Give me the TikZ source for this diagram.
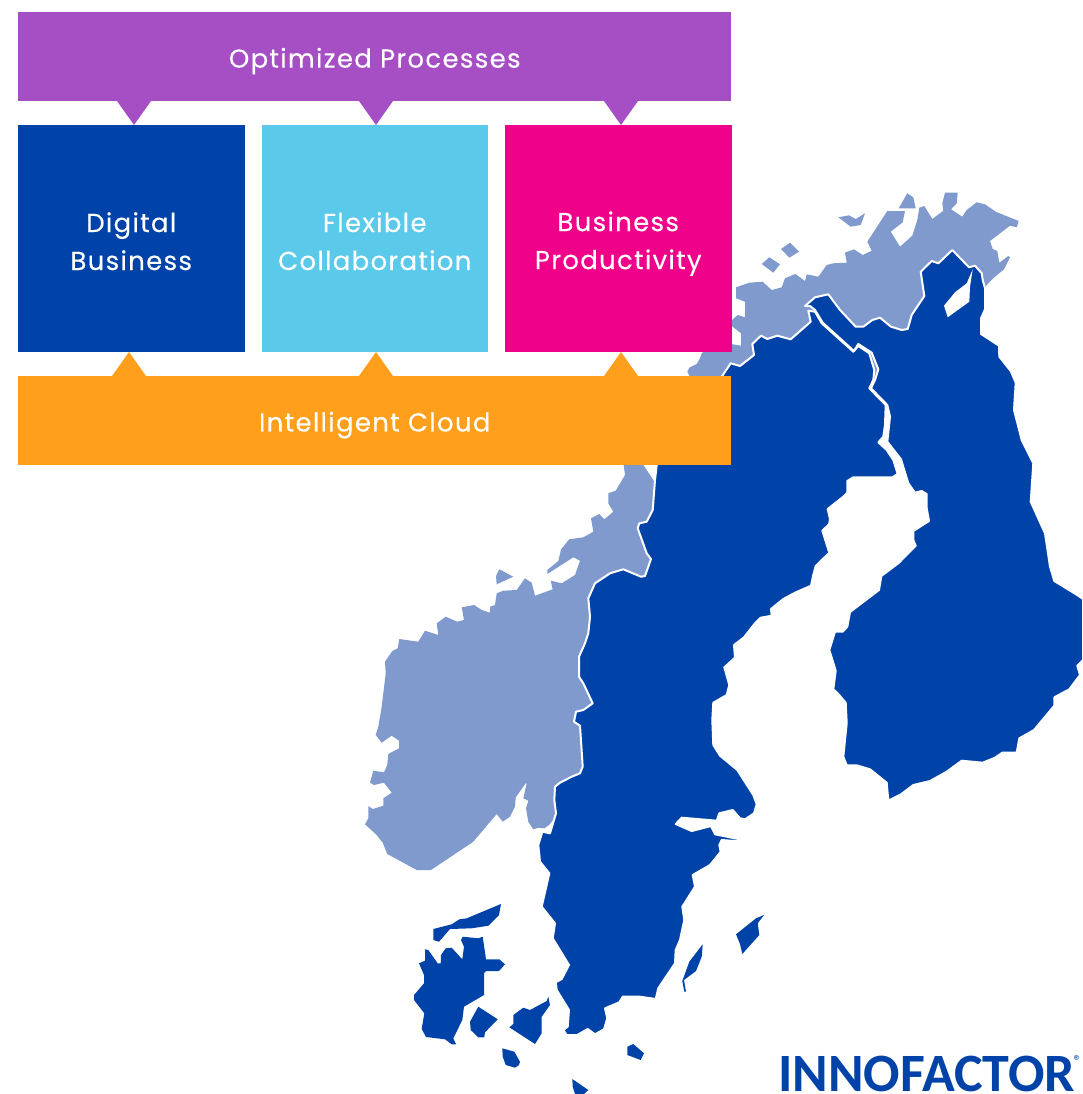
\documentclass[tikz,border=0pt]{standalone}
\usepackage{fontspec}
\usetikzlibrary{positioning,calc}
\newfontfamily\tilefont[LetterSpace=5,FakeBold=0.25]{Poppins}
\newfontfamily\logofont{Carlito}
\definecolor{navyblue}{HTML}{0043A8}
\definecolor{paleblue}{HTML}{809ACE}
\definecolor{skyblue}{HTML}{5BC9EA}
\definecolor{hotpink}{HTML}{EF0189}
\definecolor{procpurple}{HTML}{A64FC5}
\definecolor{cloudorange}{HTML}{FF9F1C}
\newcommand{\tilestrut}{\rule[-5pt]{0pt}{35pt}}
\newcommand{\bannerstrut}{\rule[-5pt]{0pt}{34pt}}

\begin{document}
\begin{tikzpicture}[
          x=1pt, y=-1pt,
          tile/.style = {minimum width=226.5pt, minimum height=227pt, inner sep=0pt, outer sep=0pt, align=center,
                         text=white, font=\tilefont\fontsize{26}{38}\selectfont},
          banner/.style = {minimum width=713pt, minimum height=89pt, inner sep=0pt, outer sep=0pt,
                           text=white, font=\tilefont\fontsize{26}{38}\selectfont},
          land/.style = {navyblue, draw=white, line width=2pt, line join=round},
          coast/.style = {fill=paleblue}
        ]
        \useasboundingbox (0,0) rectangle (1082,1094);

        % --- norway, north part
        \fill[coast] (736,287.3) -- (749.3,282.7) -- (762.7,281.7) -- (771.7,290) -- (781.7,287.3) -- (785,278.3)
          -- (795.3,274) -- (805,281) -- (806.7,274.3) -- (818.3,276.7) -- (826.7,265) -- (833.3,263.3)
          -- (846.7,262.7) -- (845,252.7) -- (854,249.3) -- (862.7,255) -- (871.7,250.7) -- (867.3,241.7)
          -- (887.3,211) -- (905,211) -- (902.7,222.3) -- (890.7,231.7) -- (900,246.7) -- (912.3,235.7)
          -- (917.3,220) -- (919.3,207.7) -- (924.3,206) -- (932.3,219) -- (943.3,210.7) -- (942.3,203.3)
          -- (945,192.7) -- (957.7,192.7) -- (956.7,203.3) -- (951,209.3) -- (962.3,216.7) -- (966.7,210)
          -- (976.7,202.3) -- (985,204.3) -- (995.7,211.7) -- (1018.7,221) -- (1016.7,227.3) -- (1010,225.7)
          -- (990,241) -- (992.7,249) -- (997.3,251) -- (999.3,262.7) -- (1008.3,256) -- (1010,257.3)
          -- (1004,269.3) -- (995,276.7) -- (987.3,284.3) -- (975,300) -- (850,400) -- (760,420) -- (700,440)
          -- (690,400) -- (690,376.7) -- (687.3,371.7) -- (689.3,367.7) -- (696.7,364) -- (700,358.3)
          -- (701.7,353.3) -- (715,340) -- (731,344) -- (741,345.7) -- (741,333.3) -- (728.3,323.3)
          -- (737.7,315) -- (745,317.3) -- (745,301.7) -- (736,298.3) -- cycle;

        % --- norway, south part
        \fill[coast] (623,460) -- (625,475) -- (615.7,490.7) -- (608.3,493.3) -- (608.3,503.3) -- (613.3,511.7)
          -- (604.3,519.3) -- (599.3,514) -- (591,518.3) -- (593.3,531.7) -- (583.3,537.3) -- (569.3,539.3)
          -- (561,549.3) -- (558.3,561) -- (547.3,570) -- (547.3,574) -- (573.3,557.3) -- (580,560.7)
          -- (575,575) -- (561.7,583.3) -- (550.7,580.7) -- (552.7,589.3) -- (535,595.7) -- (531.7,582.7)
          -- (525,578.3) -- (516.7,590) -- (503.3,590.7) -- (496.7,593.3) -- (495,605) -- (490,606.7)
          -- (490,612.7) -- (481.7,610) -- (474,605) -- (461.7,607.3) -- (464,620) -- (457.3,621.7)
          -- (445.7,616.7) -- (436.7,623.3) -- (438.3,635) -- (425,630.7) -- (418.3,641.7) -- (399.3,639)
          -- (397.7,648.3) -- (392.3,651) -- (385,661.7) -- (385.7,673.3) -- (381.7,706.7) -- (378.3,726.7)
          -- (375.7,735) -- (381.7,742.7) -- (391.7,735.7) -- (399,740.7) -- (399,748.3) -- (388.3,754)
          -- (387.3,765) -- (384,772.3) -- (373.3,770.7) -- (370,782.7) -- (374,785) -- (384,782.7)
          -- (391.7,792.7) -- (383.3,798.3) -- (383.3,805.7) -- (372.7,809) -- (368.3,806) -- (368.3,818.3)
          -- (365,824.3) -- (376.7,835) -- (382.7,842.7) -- (387.3,854) -- (403.3,862.7) -- (416.7,870)
          -- (431,870) -- (473.3,841.7) -- (496.7,814) -- (502.7,821.7) -- (510,816.7) -- (515,806.7)
          -- (515.7,797.3) -- (525.7,783.3) -- (526.7,783.3) -- (523.3,798.3) -- (528.3,800.7) -- (526,808.3)
          -- (528.3,821.7) -- (533.3,829.3) -- (538.3,827.7) -- (544.3,828.3) -- (549,825) -- (570,800)
          -- (620,700) -- (680,520) -- (640,460) -- cycle;

        % --- norway, islands
        \fill[coast] (496,576) -- (499.3,569.3) -- (513.3,576.7) -- (496.7,584.3) -- cycle;
        \fill[coast] (838.3,217.3) -- (849,215.3) -- (855.7,219) -- (865,213.3) -- (860.7,225) -- (850.7,226.7) -- cycle;
        \fill[coast] (898.7,208.3) -- (907.3,193.3) -- (913.3,197.3) -- (915.7,208.3) -- cycle;
        \fill[coast] (761.7,264) -- (769.3,257.3) -- (780,264.3) -- (773.3,272.7) -- cycle;
        \fill[coast] (781,249) -- (790,242.7) -- (799,251.7) -- (789.3,257.7) -- cycle;

        % --- sweden
        \filldraw[land] (808.3,310.7) -- (810.7,321.7) -- (790.7,339.3) -- (777.3,335.7) -- (767.3,339) -- (761,335.7)
          -- (752.3,344) -- (754,355) -- (740,366) -- (730.7,363.3) -- (721.7,376.7) -- (690,420) -- (656.7,465)
          -- (655,480) -- (652.7,510) -- (646.7,521.7) -- (639.3,523.3) -- (637.7,528.3) -- (646.7,553.3)
          -- (651,559) -- (645,576) -- (641,576.7) -- (623.3,569.3) -- (610,573.3) -- (595,583.3) -- (588.3,598.3)
          -- (590,616.7) -- (588.3,633.3) -- (585,643.3) -- (579,656.7) -- (579,676.7) -- (583.3,683.3)
          -- (592.7,703.3) -- (583.3,710) -- (576,711.7) -- (574,721.7) -- (580,725.7) -- (582.7,766.7)
          -- (580,773.3) -- (571.7,776.7) -- (560,782.7) -- (555,786.7) -- (554.3,800) -- (556,813.3)
          -- (550,833.3) -- (542.3,831.7) -- (538.3,845) -- (540,861.7) -- (549.3,873.3) -- (541.7,906.7)
          -- (555,923.3) -- (552.7,938.3) -- (569,965) -- (561.7,979) -- (555.7,982.3) -- (556.7,990)
          -- (569,1010) -- (567.7,1026.7) -- (563.3,1030) -- (566.7,1035) -- (577.3,1035) -- (587.7,1029)
          -- (595,1034.3) -- (604,1029.3) -- (607.3,1018.3) -- (605,1008.3) -- (619.3,1002.3) -- (622.7,996.7)
          -- (640,996.7) -- (655.7,999) -- (658.3,988.3) -- (675,963.3) -- (675.7,950) -- (680,940)
          -- (684.3,920) -- (682.3,906.7) -- (695,886.7) -- (692.7,875) -- (710,865) -- (720.7,851.7)
          -- (719.3,845) -- (721.7,840) -- (738.3,841.3) -- (738.3,839) -- (715,834.3) -- (711,826)
          -- (691.7,831) -- (675.7,824) -- (681.7,817.7) -- (716.7,820.7) -- (719.3,813.3) -- (732.7,810)
          -- (740,818.3) -- (745,819.3) -- (754,813.3) -- (756.7,804.3) -- (753.3,795) -- (737.3,770)
          -- (720,755.7) -- (713.3,745) -- (712.3,720) -- (713.3,702.7) -- (726.7,695) -- (729.3,685)
          -- (724.3,667.3) -- (735,657.7) -- (734,645) -- (744,637.3) -- (755,623.3) -- (760.7,617.7)
          -- (771.7,615.7) -- (771,609) -- (783.3,599) -- (795,592.7) -- (811,585.7) -- (813.3,575)
          -- (815.7,566) -- (829.3,552.7) -- (822.3,530.7) -- (829,524.3) -- (830,519.3) -- (827.7,509)
          -- (843.3,496.7) -- (847.3,492.7) -- (847.3,481) -- (853.3,477.3) -- (892.3,477.3) -- (897.7,474)
          -- (893.3,460) -- (886.7,450) -- (878.3,442.3) -- (883.3,436.7) -- (885,425) -- (885.7,405)
          -- (869.3,388.3) -- (873.3,380) -- (874.3,370) -- (869.3,353.3) -- (858.3,346) -- (853.3,351.7)
          -- (821.7,323.3) -- (815,311.7) -- cycle;

        % --- finland
        \filldraw[land] (805,306) -- (815,297.3) -- (828.3,294.3) -- (840,310) -- (855.7,326.7) -- (863.3,326.7)
          -- (872.3,320) -- (880,317.7) -- (891,326.7) -- (901.7,330) -- (907.7,329) -- (911.7,315) -- (924.3,296)
          -- (920.7,271.7) -- (931.7,261) -- (938.3,263.3) -- (952.3,250) -- (969,267.3) -- (975,265.7)
          -- (981.7,273.3) -- (982.7,280) -- (985,288.3) -- (985,309.3) -- (981,318.3) -- (981,334) -- (999,345.7)
          -- (999.3,356.7) -- (1010.7,371) -- (1015.7,382.7) -- (1014,410) -- (1021.7,440) -- (1033.3,463.3)
          -- (1030.7,501.7) -- (1045,533.3) -- (1050,566.7) -- (1054.3,581) -- (1078.3,595.7) -- (1083,599)
          -- (1083,660) -- (1077.3,665.7) -- (1080,675) -- (1069.3,689.3) -- (1054.3,697.3) -- (1054.3,705.7)
          -- (1034,730) -- (1019.3,738.3) -- (1016.7,752.7) -- (1002.3,752.7) -- (995,757.7) -- (982.7,762.7)
          -- (961.7,760.7) -- (946.7,771.7) -- (930,781) -- (913.3,785) -- (901,794.3) -- (888.3,800.7)
          -- (886.7,782.7) -- (870,769.3) -- (856.7,765.3) -- (846.7,765.3) -- (843.3,756.7) -- (846.7,723.3)
          -- (845.7,702.7) -- (837.7,693.3) -- (833.3,689.3) -- (835.7,670.7) -- (829.3,650) -- (835,631.7)
          -- (842.7,631.7) -- (847.3,626.7) -- (850,612) -- (879,590) -- (881.3,576) -- (898.3,563.3)
          -- (915.7,545.7) -- (913.3,540) -- (913.3,531) -- (929,521) -- (926.7,508.3) -- (926.7,494)
          -- (921.7,491) -- (915,492.7) -- (908.3,483.3) -- (901,459.3) -- (887.3,441.7) -- (890,416.7)
          -- (887.3,405) -- (871,388.3) -- (875,380) -- (878.3,369.3) -- (871.7,352.7) -- (858.3,344)
          -- (854,351) -- (822.7,322.7) -- (815,310) -- (810,306) -- cycle;
        \fill[white] (972.7,269.3) -- (966.7,283.3) -- (955,292.3) -- (944,305.7) -- (947.7,317.3) -- (969.3,301.7)
          -- (970,286.7) -- cycle;

        % --- denmark and the baltic islands
        \fill[navyblue] (425,949.3) -- (428.3,950) -- (437.7,963.3) -- (440.7,963.3) -- (441,955) -- (445.7,948.3)
          -- (451.7,947.7) -- (462.3,959.3) -- (464,946.7) -- (461,940) -- (462.7,936.7) -- (478.3,938.3)
          -- (482.7,936.7) -- (486,959.3) -- (499.3,959.3) -- (505,964.3) -- (499,971) -- (486,971) -- (484,973.3)
          -- (484,995) -- (464,1006.7) -- (462.3,1020) -- (453.3,1038.3) -- (456,1044.3) -- (451.7,1044.3)
          -- (445,1039.3) -- (426,1037) -- (421.7,1029) -- (424.3,1013.3) -- (414,1000) -- (414,995) -- (424,983.3)
          -- (424,975) -- (419,963.3) -- (425,960.7) -- cycle;
        \fill[navyblue] (433.3,929) -- (451.7,924.3) -- (459.3,919.3) -- (466.7,918.3) -- (501,904) -- (499,915)
          -- (488.3,925.7) -- (471.7,928.3) -- (450,929) -- (439,941.7) -- (433.3,940) -- cycle;
        \fill[navyblue] (478.3,1006.7) -- (497.7,1019.3) -- (485,1032.3) -- (484.3,1037.3) -- (478.3,1037.3)
          -- (470.7,1030) -- (470,1021.7) -- cycle;
        \fill[navyblue] (548.3,996.7) -- (550,1005) -- (541.7,1016.7) -- (541.7,1033.3) -- (535,1044) -- (509.3,1027.3)
          -- (513.3,1024) -- (513.3,1015) -- (523.3,1007.7) -- (530,1010) -- (546.7,1001) -- cycle;
        \fill[navyblue] (502.3,1048.3) -- (514.3,1051.7) -- (520,1061.7) -- (519,1065) -- (515,1067.7) -- (505.7,1065)
          -- (502.7,1056.7) -- cycle;
        \fill[navyblue] (572.3,1079) -- (588.3,1090) -- (584,1094) -- (575,1094) -- (572.7,1086.7) -- cycle;
        \fill[navyblue] (627.3,1046.7) -- (633.3,1044) -- (644,1053.3) -- (640.7,1060) -- (627.3,1055) -- cycle;
        \fill[navyblue] (736,934.3) -- (756,918.3) -- (764,915) -- (757.7,923.3) -- (759.3,935) -- (742.3,954)
          -- (740,944) -- cycle;
        \fill[navyblue] (702.7,944.3) -- (701.7,956.7) -- (696,971) -- (684,980) -- (686,991.7) -- (684.3,991.7)
          -- (682.3,981) -- (689.3,961.7) -- cycle;

        % --- blocks
        \node[tile, fill=navyblue]                          (digital)      at (131.25,238.5) {\tilestrut Digital\\\tilestrut Business};
        \node[tile, fill=skyblue, right=17pt of digital]    (flexible)     {\tilestrut Flexible\\\tilestrut Collaboration};
        \node[tile, fill=hotpink, right=17pt of flexible]   (productivity) {\tilestrut Business\\\tilestrut Productivity};
        \node[banner, fill=procpurple, above=24pt of flexible]  (processes) {\bannerstrut Optimized Processes};
        \node[banner, fill=cloudorange, below=24pt of flexible] (cloud)     {\bannerstrut Intelligent Cloud};

        % --- pointers
        \foreach \tilename/\topoff/\botoff in {digital/2.75/-2.25, flexible/1.25/1.25, productivity/2.75/2.75} {
          \fill[procpurple] ($(\tilename.north)+(\topoff,0)$) -- ++(-17,-24) -- ++(34,0) -- cycle;
          \fill[cloudorange] ($(\tilename.south)+(\botoff,0)$) -- ++(-17,24) -- ++(34,0) -- cycle;
        }

        % --- logo
        \node[anchor=base west, inner sep=0pt, text depth=0pt, text=navyblue, font=\logofont\bfseries\fontsize{54}{54}\selectfont]
          (logo) at (778,1091) {INNOFACTOR};
        \node[anchor=east, inner sep=0pt, text=navyblue, font=\logofont\fontsize{16}{16}\selectfont]
          (mark) at (1082,1061) {®};
\end{tikzpicture}
\end{document}
